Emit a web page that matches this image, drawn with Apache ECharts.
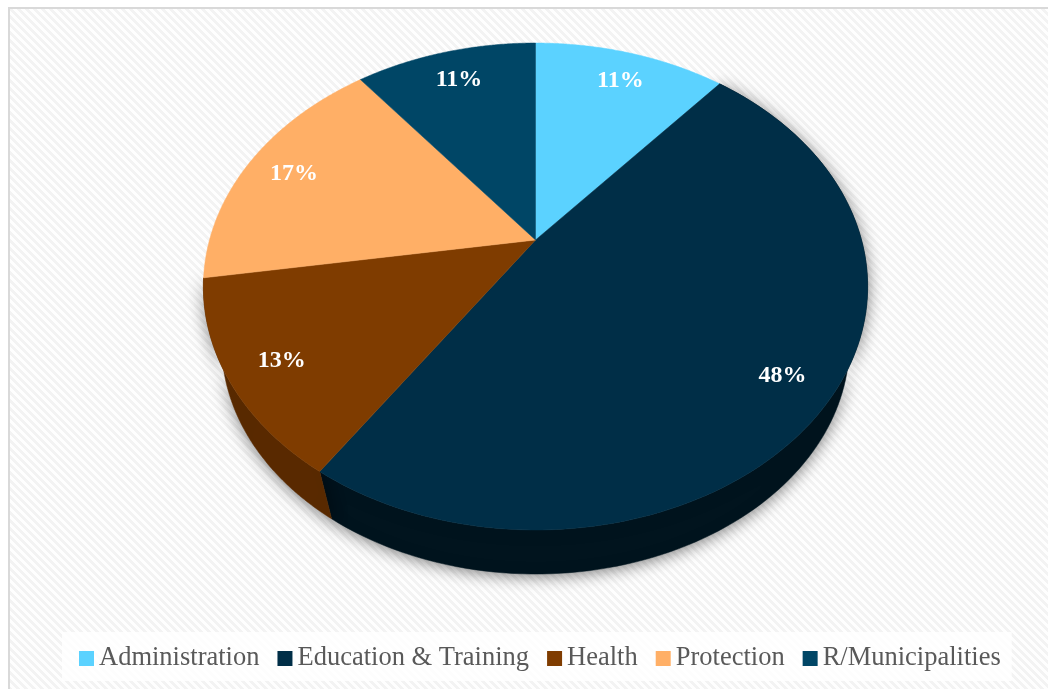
<!DOCTYPE html>
<html><head><meta charset="utf-8">
<style>html,body{margin:0;padding:0;background:#fff}#c{width:1048px;height:689px}</style>
<script src="https://cdn.jsdelivr.net/npm/echarts@6/dist/echarts.min.js"></script>
</head><body><div id="c"></div>
<script>
const categories = ['Administration','Education & Training','Health','Protection','R/Municipalities'];
const values = [11.2, 48.2, 13.1, 16.9, 10.6];
const colors = ['#5BD2FF','#002E47','#7F3C00','#FFAF66','#004666'];
const wallColors = ['#3A88A8','#01141E','#5A2A00','#A8703C','#002A3E'];

const total = values.reduce((a,b)=>a+b,0);
let run = 0;
const starts = values.map(v=>{const s=run; run+=v; return s/total;});

// perspective projection of the pie's unit circle onto the picture
const CX=535.5, CY=240, A=326, B=234.6, K=0.191;
const topDisk = (u,v)=>{const d=1+K*v; return [CX+A*u/d, CY-B*v/d];};
const BS=0.945, BY=300;
const botDisk = (u,v)=>{const d=1+K*v; return [CX+BS*A*u/d, BY-BS*B*v/d];};
const rim = (f,fn,r=1)=>{const t=f*2*Math.PI; return fn(r*Math.sin(t), r*Math.cos(t));};

function renderSlice(params, api){
  const i = params.seriesIndex;
  const f0 = starts[i], f1 = f0 + api.value(0)/total;
  const n = 120, fs=[];
  for(let k=0;k<=n;k++) fs.push(f0+(f1-f0)*k/n);
  const topRim = fs.map(f=>rim(f,topDisk));
  const botRim = fs.map(f=>rim(f,botDisk)).reverse();
  const mid = rim((f0+f1)/2, topDisk, 0.85);
  const color = colors[i];
  const front = Math.cos((f0+f1)*Math.PI) < 0.2;
  const children = [];
  if(front){
    children.push({type:'polygon', z2:1, shape:{points:topRim.concat(botRim)},
      style:{fill:wallColors[i], stroke:wallColors[i], lineWidth:.5,
             shadowBlur:16, shadowColor:'rgba(0,0,0,0.5)', shadowOffsetY:2}});
  }
  children.push({type:'polygon', z2:10, shape:{points:[topDisk(0,0)].concat(topRim)},
    style:{fill:color, stroke:color, lineWidth:.5}});
  children.push({type:'text', z2:20, style:{
    x:mid[0]+2, y:mid[1]+3, text:Math.round(api.value(0)/total*100)+'%', fill:'#fff',
    font:'bold 24px "Liberation Serif", serif', align:'center', verticalAlign:'middle'}});
  return {type:'group', children};
}

const tile = document.createElement('canvas');
const P = 8; tile.width = P; tile.height = P;
const g = tile.getContext('2d');
for(let y=0;y<P;y++) for(let x=0;x<P;x++){
  g.fillStyle = ((x-y+P)%P) < 4 ? '#F3F3F3' : '#FEFEFE';
  g.fillRect(x,y,1,1);
}

const chart = echarts.init(document.getElementById('c'), null, {renderer:'canvas'});
chart.setOption({
  animation:false,
  backgroundColor:'#fff',
  graphic:[
    {type:'rect', z:-5, silent:true, shape:{x:8,y:7,width:1040,height:682}, style:{fill:'#D9D9D9'}},
    {type:'rect', z:-4, silent:true, shape:{x:10,y:9,width:1038,height:680}, style:{fill:{image:tile,repeat:'repeat'}}}
  ],
  legend:{
    left:62, top:632, padding:[13,11,9,17],
    backgroundColor:'rgba(255,255,255,0.8)',
    icon:'rect', itemWidth:15, itemHeight:15, itemGap:18,
    data:categories,
    textStyle:{color:'#595959', fontFamily:'"Liberation Serif", serif', fontSize:26.5}
  },
  series:categories.map((name,i)=>({
    type:'custom', name, coordinateSystem:'none',
    itemStyle:{color:colors[i]},
    renderItem:renderSlice,
    data:[[values[i]]]
  }))
});
</script></body></html>
